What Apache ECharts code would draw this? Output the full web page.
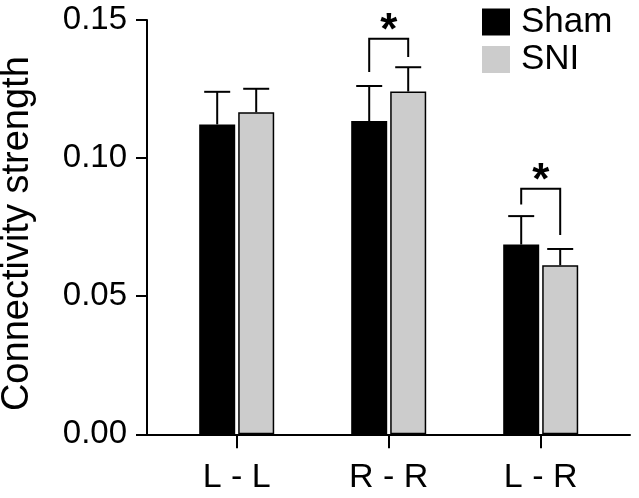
<!DOCTYPE html>
<html>
<head>
<meta charset="utf-8">
<script src="https://cdn.jsdelivr.net/npm/echarts@6/dist/echarts.min.js"></script>
<style>html,body{margin:0;padding:0;background:#fff}#c{width:639px;height:498px}</style>
</head>
<body>
<div id="c"></div>
<script>
const categories = ['L - L', 'R - R', 'L - R'];
const shamMean = [0.1122, 0.1134, 0.0687];
const shamSem  = [0.0118, 0.0127, 0.0103];
const sniMean  = [0.1166, 0.1241, 0.0612];
const sniSem   = [0.0085, 0.0088, 0.0059];
const sigCategory = [1, 2];
const sigTop      = [0.1432, 0.0889];
const sigLegLeft  = [0.1312, 0.0832];
const sigLegRight = [0.1366, 0.0722];
const yMin = 0, yMax = 0.15, yStep = 0.05;

const FONT = '"Liberation Sans", Arial, Helvetica, sans-serif';
const BAR_W = 36, BAR_GAP = 3;
const OFF = (BAR_W + BAR_GAP) / 2;
const CAP = 13;

function errItem(offset) {
  return function (params, api) {
    const c = api.value(0), m = api.value(1), s = api.value(2);
    const p0 = api.coord([c, m]);
    const p1 = api.coord([c, m + s]);
    const x = p0[0] + offset;
    const st = { stroke: '#000', lineWidth: 2 };
    return {
      type: 'group',
      children: [
        { type: 'line', shape: { x1: x, y1: p0[1], x2: x, y2: p1[1] }, style: st },
        { type: 'line', shape: { x1: x - CAP, y1: p1[1], x2: x + CAP, y2: p1[1] }, style: st }
      ]
    };
  };
}

const chart = echarts.init(document.getElementById('c'));
chart.setOption({
  animation: false,
  backgroundColor: '#fff',
  grid: [
    { left: 147, right: 9, top: 20, bottom: 63.7, containLabel: false, outerBoundsMode: 'none' },
    { left: 160.7, right: 22.3, top: 20, bottom: 63.7, containLabel: false, outerBoundsMode: 'none' }
  ],
  legend: {
    orient: 'vertical',
    left: 482, top: 4.5, padding: 0,
    icon: 'rect',
    itemWidth: 28, itemHeight: 27, itemGap: 2.5,
    selectedMode: false,
    textStyle: { fontFamily: FONT, fontSize: 35, color: '#000', padding: [0, 0, 0, 6] },
    itemStyle: { borderWidth: 0 },
    data: ['Sham', 'SNI']
  },
  xAxis: [
    { type: 'value', gridIndex: 0, min: 0, max: 1,
      axisLine: { show: true, lineStyle: { color: '#000', width: 2 } },
      axisTick: { show: false }, axisLabel: { show: false }, splitLine: { show: false } },
    { type: 'category', gridIndex: 1, data: categories,
      axisLine: { show: false },
      axisTick: { show: true, alignWithLabel: true, length: 14, lineStyle: { color: '#000', width: 2 } },
      axisLabel: { fontFamily: FONT, fontSize: 34, color: '#000', margin: 26 } }
  ],
  yAxis: [
    { type: 'value', gridIndex: 0, min: yMin, max: yMax, interval: yStep,
      name: 'Connectivity strength', nameLocation: 'middle', nameGap: 110,
      nameTextStyle: { fontFamily: FONT, fontSize: 38, color: '#000', padding: [0, 13, 0, 0] },
      axisLine: { show: true, lineStyle: { color: '#000', width: 2 } },
      axisTick: { show: true, length: 11, lineStyle: { color: '#000', width: 2 } },
      axisLabel: { fontFamily: FONT, fontSize: 33, color: '#000', margin: 20,
        formatter: v => v.toFixed(2) },
      splitLine: { show: false } },
    { type: 'value', gridIndex: 1, min: yMin, max: yMax, show: false }
  ],
  series: [
    { name: 'Sham', type: 'bar', xAxisIndex: 1, yAxisIndex: 1, data: shamMean,
      barWidth: BAR_W, barGap: (BAR_GAP / BAR_W * 100) + '%',
      itemStyle: { color: '#000', borderColor: '#000', borderWidth: 1.5 } },
    { name: 'SNI', type: 'bar', xAxisIndex: 1, yAxisIndex: 1, data: sniMean,
      barWidth: BAR_W,
      itemStyle: { color: '#cccccc', borderColor: '#000', borderWidth: 1.5 } },
    { type: 'custom', xAxisIndex: 1, yAxisIndex: 1, z: 5,
      renderItem: errItem(-OFF),
      data: categories.map((c, i) => [i, shamMean[i], shamSem[i]]) },
    { type: 'custom', xAxisIndex: 1, yAxisIndex: 1, z: 5,
      renderItem: errItem(OFF),
      data: categories.map((c, i) => [i, sniMean[i], sniSem[i]]) },
    { type: 'custom', xAxisIndex: 1, yAxisIndex: 1, z: 5,
      renderItem: function (params, api) {
        const c = api.value(0);
        const pt = api.coord([c, api.value(1)]);
        const pl = api.coord([c, api.value(2)]);
        const pr = api.coord([c, api.value(3)]);
        const xl = pt[0] - OFF, xr = pt[0] + OFF;
        return {
          type: 'group',
          children: [
            { type: 'polyline', shape: { points: [[xl, pl[1]], [xl, pt[1]], [xr, pt[1]], [xr, pr[1]]] },
              style: { stroke: '#000', lineWidth: 2, fill: null } },
            { type: 'text', x: pt[0], y: pt[1] - 7,
              style: { text: '*', fontFamily: FONT, fontSize: 44, fontWeight: 'bold', fill: '#000',
                align: 'center', verticalAlign: 'middle' } }
          ]
        };
      },
      data: sigCategory.map((c, i) => [c, sigTop[i], sigLegLeft[i], sigLegRight[i]]) }
  ]
});
</script>
</body>
</html>
